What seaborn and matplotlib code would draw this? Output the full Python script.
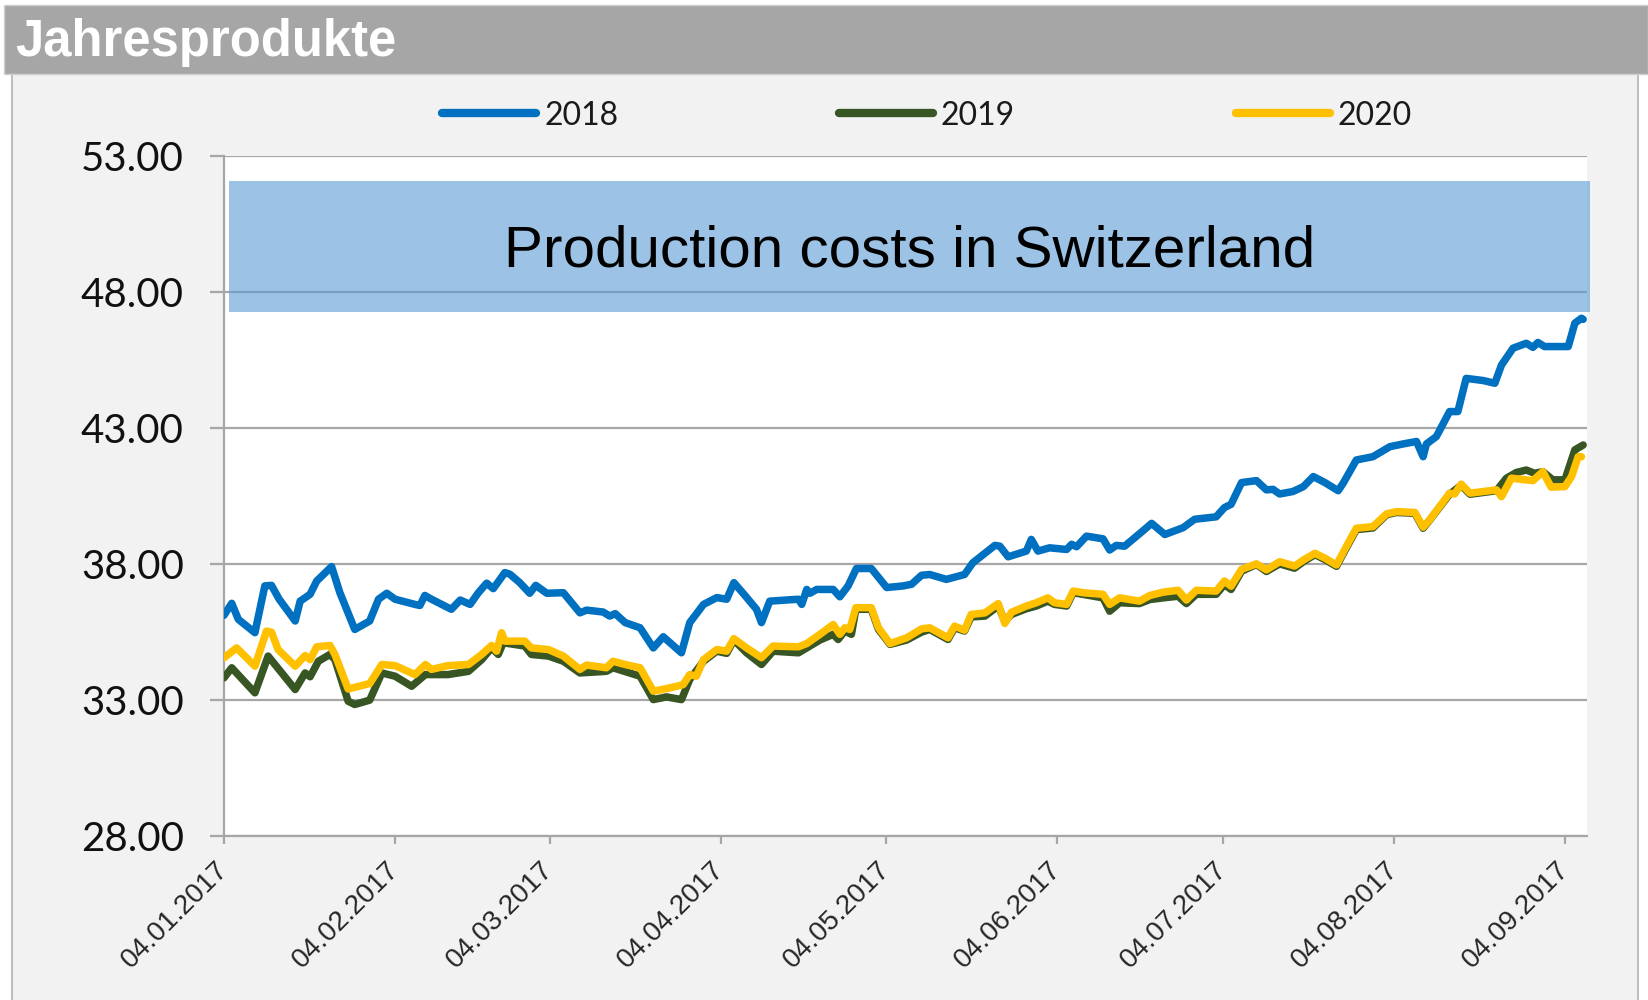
import numpy as np
import pandas as pd
import matplotlib
matplotlib.use("Agg")
import matplotlib.pyplot as plt
import matplotlib.dates as mdates
import matplotlib.transforms as mtransforms
from matplotlib.patches import Rectangle
from matplotlib.lines import Line2D
import seaborn as sns

# ---------------- data ----------------
START = "2017-01-04"
title_text = "Jahresprodukte"
band_text = "Production costs in Switzerland"
band_low, band_high = 47.25, 52.07
series_names = ["2018", "2019", "2020"]
series_colors = ["#0070c0", "#375623", "#ffc000"]
ytick_vals = [28, 33, 38, 43, 48, 53]
xtick_dates = ["2017-01-04", "2017-02-04", "2017-03-04", "2017-04-04", "2017-05-04",
               "2017-06-04", "2017-07-04", "2017-08-04", "2017-09-04"]
x_end_days = 247

days_2018 = [0, 1.4, 2.6, 5.6, 7.4, 8.6, 10, 12.9, 13.8, 15.6, 16.8, 19.5, 21, 23.7, 26.4, 28, 29.5, 31,
             34.6, 35.5, 36.4, 37.6, 41.2, 42.8, 44.6, 46.1, 47.6, 48.8, 50.9, 51.8, 53.6, 55.4, 56.5,
             58.5, 61.5, 64.5, 65.7, 68.7, 69.9, 70.9, 72.7, 75.4, 77.8, 79.6, 82.9, 84.4, 86.9, 89.3,
             91.1, 92.4, 94.4, 96.5, 97.4, 98.9, 104.1, 104.7, 105.6, 106.2, 107.4, 110.4, 111.6, 113.1,
             114.6, 117.3, 120.1, 123.1, 124.6, 126.4, 127.9, 130.9, 134.2, 135.7, 139.7, 140.6, 142.1,
             145.4, 146.3, 147.5, 149.6, 152.7, 153.6, 154.5, 156.3, 159.3, 160.5, 161.7, 163.2, 166.5,
             168.1, 170.5, 173.8, 175.9, 179.8, 181.3, 182.5, 184.4, 187.1, 188.9, 190.1, 191.3, 193.7,
             195.6, 197.4, 199.5, 201.9, 202.8, 205.2, 208.2, 211.3, 213.7, 216.1, 217.3, 217.9, 219.7,
             222.1, 223.6, 225.1, 228.2, 230.3, 231.5, 233.6, 236, 237.2, 238.1, 239.3, 243.6, 244.8,
             246, 246.3]
vals_2018 = [36.10, 36.54, 35.95, 35.46, 37.18, 37.20, 36.69, 35.89, 36.62, 36.87, 37.36, 37.89, 36.93,
             35.58, 35.89, 36.69, 36.91, 36.69, 36.50, 36.46, 36.83, 36.69, 36.32, 36.66, 36.50, 36.93,
             37.28, 37.08, 37.67, 37.61, 37.30, 36.91, 37.20, 36.91, 36.93, 36.19, 36.29, 36.22, 36.07,
             36.16, 35.83, 35.64, 34.90, 35.31, 34.72, 35.83, 36.50, 36.75, 36.69, 37.30, 36.83, 36.32,
             35.83, 36.62, 36.69, 36.50, 37.05, 36.91, 37.05, 37.05, 36.78, 37.18, 37.82, 37.82, 37.12,
             37.18, 37.24, 37.57, 37.60, 37.42, 37.60, 38.03, 38.67, 38.64, 38.25, 38.46, 38.89, 38.46,
             38.58, 38.52, 38.71, 38.62, 39.01, 38.91, 38.50, 38.67, 38.64, 39.20, 39.48, 39.07, 39.32,
             39.63, 39.72, 40.06, 40.18, 40.98, 41.05, 40.71, 40.73, 40.56, 40.65, 40.83, 41.20, 40.98,
             40.68, 40.95, 41.81, 41.93, 42.30, 42.40, 42.49, 41.93, 42.40, 42.67, 43.59, 43.59, 44.81,
             44.73, 44.63, 45.30, 45.92, 46.10, 45.95, 46.13, 45.98, 45.98, 46.84, 47.02, 46.98]

days_2019 = [0, 1.4, 5.6, 8, 12.9, 14.7, 15.6, 17.1, 19.2, 20.1, 22.5, 23.7, 26.4, 28.6, 31, 34, 36.5,
             40.6, 44.3, 46.7, 48.5, 49.7, 50.6, 54.5, 55.7, 58.8, 61.5, 64.5, 69.3, 70.5, 75.4, 77.8,
             80.2, 82.9, 84.4, 86.9, 89.3, 91.1, 92.4, 94.7, 97.4, 99.5, 104.1, 108, 110.4, 111.3, 112.5,
             113.7, 114.5, 117.3, 118.6, 120.7, 123.7, 126.4, 127.9, 131.2, 132.4, 134.2, 135.4, 137.9,
             140.3, 141.5, 142.7, 145.4, 147.2, 149.3, 150.5, 152.7, 153.9, 159.3, 160.5, 162.3, 165.9,
             167.8, 170.2, 172.9, 174.4, 176.2, 179.8, 181.3, 182.5, 184.4, 187.1, 188.9, 191.3, 194,
             195.6, 197.7, 199.5, 201.6, 203.4, 205.2, 208.2, 210.7, 212.5, 215.8, 217.3, 218.5, 222.1,
             224.2, 225.8, 230.6, 232.4, 234.2, 236, 237.5, 239, 240.8, 243, 244.8, 246.3]
vals_2019 = [33.80, 34.17, 33.25, 34.60, 33.37, 33.98, 33.84, 34.41, 34.66, 34.47, 32.94, 32.82, 32.98,
             33.98, 33.86, 33.49, 33.92, 33.92, 34.04, 34.47, 34.90, 34.66, 35.09, 34.97, 34.66, 34.60,
             34.41, 33.98, 34.04, 34.17, 33.86, 33.00, 33.10, 33.00, 33.74, 34.41, 34.78, 34.70, 35.19,
             34.72, 34.29, 34.78, 34.72, 35.19, 35.40, 35.21, 35.52, 35.40, 36.32, 36.32, 35.58, 35.03,
             35.19, 35.48, 35.58, 35.21, 35.64, 35.52, 36.04, 36.07, 36.44, 35.88, 36.13, 36.34, 36.44,
             36.62, 36.50, 36.44, 36.93, 36.74, 36.25, 36.56, 36.53, 36.68, 36.74, 36.80, 36.53, 36.87,
             36.87, 37.23, 37.05, 37.72, 37.97, 37.71, 37.99, 37.83, 38.07, 38.33, 38.15, 37.90, 38.58,
             39.25, 39.31, 39.80, 39.88, 39.85, 39.30, 39.60, 40.55, 40.88, 40.55, 40.68, 41.14, 41.35,
             41.44, 41.32, 41.38, 41.08, 41.08, 42.18, 42.36]

days_2020 = [0, 2.3, 5.6, 7.7, 8.6, 9.8, 12.9, 14.7, 15.6, 16.8, 19.2, 20.1, 22.5, 26.4, 28.6, 31, 34.6,
             36.5, 37.6, 40.6, 44.3, 46.7, 48.5, 49.4, 50.3, 50.9, 54.5, 55.7, 58.8, 61.5, 64.5, 65.7,
             69.3, 70.5, 72.7, 75.4, 77.8, 80.8, 83.2, 84.4, 85.6, 86.9, 89.3, 91.1, 92.4, 94.7, 97.4,
             99.5, 104.1, 105.6, 108, 110.4, 111.6, 112.5, 113.4, 114.5, 117.3, 118.6, 120.7, 123.7,
             126.4, 127.9, 131.2, 132.4, 134.2, 135.4, 137.9, 140.3, 141.5, 142.7, 145.4, 147.2, 149.3,
             150.5, 152.7, 153.9, 155.7, 159.3, 160.5, 162.3, 165.9, 167.8, 170.2, 172.9, 174.4, 176.2,
             179.8, 181.3, 182.5, 184.4, 187.1, 188.9, 191.3, 194, 195.6, 197.7, 199.5, 201.6, 203.4,
             205.2, 208.2, 210.7, 212.5, 215.8, 217.3, 218.5, 222.1, 223, 224.2, 225.8, 230.6, 231.5,
             233.3, 237.2, 239, 240.5, 243, 244.2, 245.4, 246]
vals_2020 = [34.54, 34.90, 34.23, 35.52, 35.48, 34.84, 34.23, 34.62, 34.47, 34.94, 34.99, 34.66, 33.39,
             33.59, 34.29, 34.25, 33.92, 34.29, 34.11, 34.25, 34.29, 34.66, 34.99, 34.78, 35.46, 35.15,
             35.15, 34.90, 34.84, 34.60, 34.11, 34.27, 34.17, 34.41, 34.29, 34.17, 33.31, 33.43, 33.55,
             33.92, 33.86, 34.47, 34.84, 34.78, 35.24, 34.90, 34.54, 34.97, 34.94, 35.06, 35.40, 35.76,
             35.40, 35.64, 35.58, 36.38, 36.38, 35.64, 35.06, 35.27, 35.60, 35.64, 35.27, 35.70, 35.55,
             36.13, 36.19, 36.53, 35.80, 36.21, 36.44, 36.56, 36.74, 36.56, 36.50, 36.99, 36.93, 36.87,
             36.50, 36.74, 36.62, 36.83, 36.95, 37.02, 36.66, 37.02, 36.99, 37.36, 37.17, 37.79, 37.99,
             37.77, 38.07, 37.91, 38.13, 38.38, 38.20, 37.95, 38.63, 39.30, 39.36, 39.83, 39.91, 39.88,
             39.34, 39.61, 40.59, 40.56, 40.92, 40.59, 40.71, 40.46, 41.14, 41.05, 41.38, 40.81, 40.83,
             41.20, 41.93, 41.93]

# ---------------- build frame ----------------
start = pd.Timestamp(START)
frames = []
for name, d, v in zip(series_names, [days_2018, days_2019, days_2020], [vals_2018, vals_2019, vals_2020]):
    frames.append(pd.DataFrame({
        "date": start + pd.to_timedelta(np.array(d, dtype=float), unit="D"),
        "value": v,
        "year": name,
    }))
df = pd.concat(frames, ignore_index=True)

# ---------------- figure ----------------
sns.set_theme(style="white")
plt.rcParams["font.family"] = ["Liberation Sans", "DejaVu Sans"]
W, H = 1648, 1000
fig = plt.figure(figsize=(W / 100, H / 100), dpi=100)
fig.patch.set_facecolor("white")

fig.add_artist(Rectangle((12 / W, -0.01), (1638 - 12) / W, (1000 - 74) / H + 0.01,
                         transform=fig.transFigure, facecolor="#f2f2f2",
                         edgecolor="#bfbfbf", lw=1.5, zorder=-5))
fig.add_artist(Rectangle((4 / W, 1 - 74 / H), (1648 - 4) / W, (74 - 5) / H,
                         transform=fig.transFigure, facecolor="#a6a6a6",
                         edgecolor="#d0d0d0", lw=1, zorder=-4))
fig.text(15 / W, 1 - 56 / H, title_text, color="white", fontsize=36.5, fontweight="bold",
         family="Liberation Sans", va="baseline", ha="left")

ax = fig.add_axes([224 / W, 1 - 835.6 / H, (1587 - 224) / W, (835.6 - 155.6) / H])
ax.set_facecolor("white")
ax.set_axisbelow(True)

palette = dict(zip(series_names, series_colors))
sns.lineplot(data=df, x="date", y="value", hue="year", hue_order=series_names,
             palette=palette, linewidth=5.4, estimator=None, sort=False,
             legend=False, ax=ax, zorder=3)
for ln in ax.lines:
    ln.set_solid_capstyle("round")
    ln.set_solid_joinstyle("round")

# band with label
ax.axhspan(band_low, band_high, xmin=0.004, xmax=1.002, facecolor="#5b9bd5",
           alpha=0.6, lw=0, zorder=2, clip_on=False)
trans = mtransforms.blended_transform_factory(ax.transAxes, ax.transData)
ax.text(0.503, (band_low + band_high) / 2 - 0.18, band_text, transform=trans, ha="center",
        va="center", fontsize=42, family="Liberation Sans", color="black", zorder=4)

# axes
ax.set_xlim(start, start + pd.Timedelta(days=x_end_days))
ax.set_ylim(min(ytick_vals), max(ytick_vals))
ax.set_yticks(ytick_vals)
ax.set_yticklabels([f"{v:.2f}" for v in ytick_vals])
ax.set_xticks(pd.to_datetime(xtick_dates))
ax.xaxis.set_major_formatter(mdates.DateFormatter("%d.%m.%Y"))
ax.set_xlabel("")
ax.set_ylabel("")

ax.yaxis.grid(True, color="#a6a6a6", lw=1.6)
ax.xaxis.grid(False)
for s in ["top", "right"]:
    ax.spines[s].set_visible(False)
for s in ["left", "bottom"]:
    ax.spines[s].set_color("#a6a6a6")
    ax.spines[s].set_linewidth(1.6)

ax.tick_params(axis="y", which="major", left=True, length=10, width=1.6, color="#a6a6a6",
               pad=19, labelsize=29, labelcolor="#111111")
ax.tick_params(axis="x", which="major", bottom=True, length=6, width=1.6, color="#a6a6a6",
               pad=16, labelsize=20, labelcolor="#262626")
for lab in ax.get_yticklabels():
    lab.set_family("Lato")
for lab in ax.get_xticklabels():
    lab.set_family("Liberation Sans")
    lab.set_rotation(45)
    lab.set_ha("right")
    lab.set_va("center")
    lab.set_rotation_mode("anchor")

# legend
handles = [Line2D([0], [0], color=c, lw=6, solid_capstyle="round") for c in series_colors]
leg = fig.legend(handles, series_names, loc="center", bbox_to_anchor=(927 / W, 1 - 115.6 / H),
                 ncol=3, frameon=False, handlelength=2.95, columnspacing=6.9,
                 handletextpad=0.25, prop={"family": "Lato", "size": 23})
for t in leg.get_texts():
    t.set_color("#1a1a1a")

fig.savefig("out.png", dpi=100, facecolor=fig.get_facecolor())
